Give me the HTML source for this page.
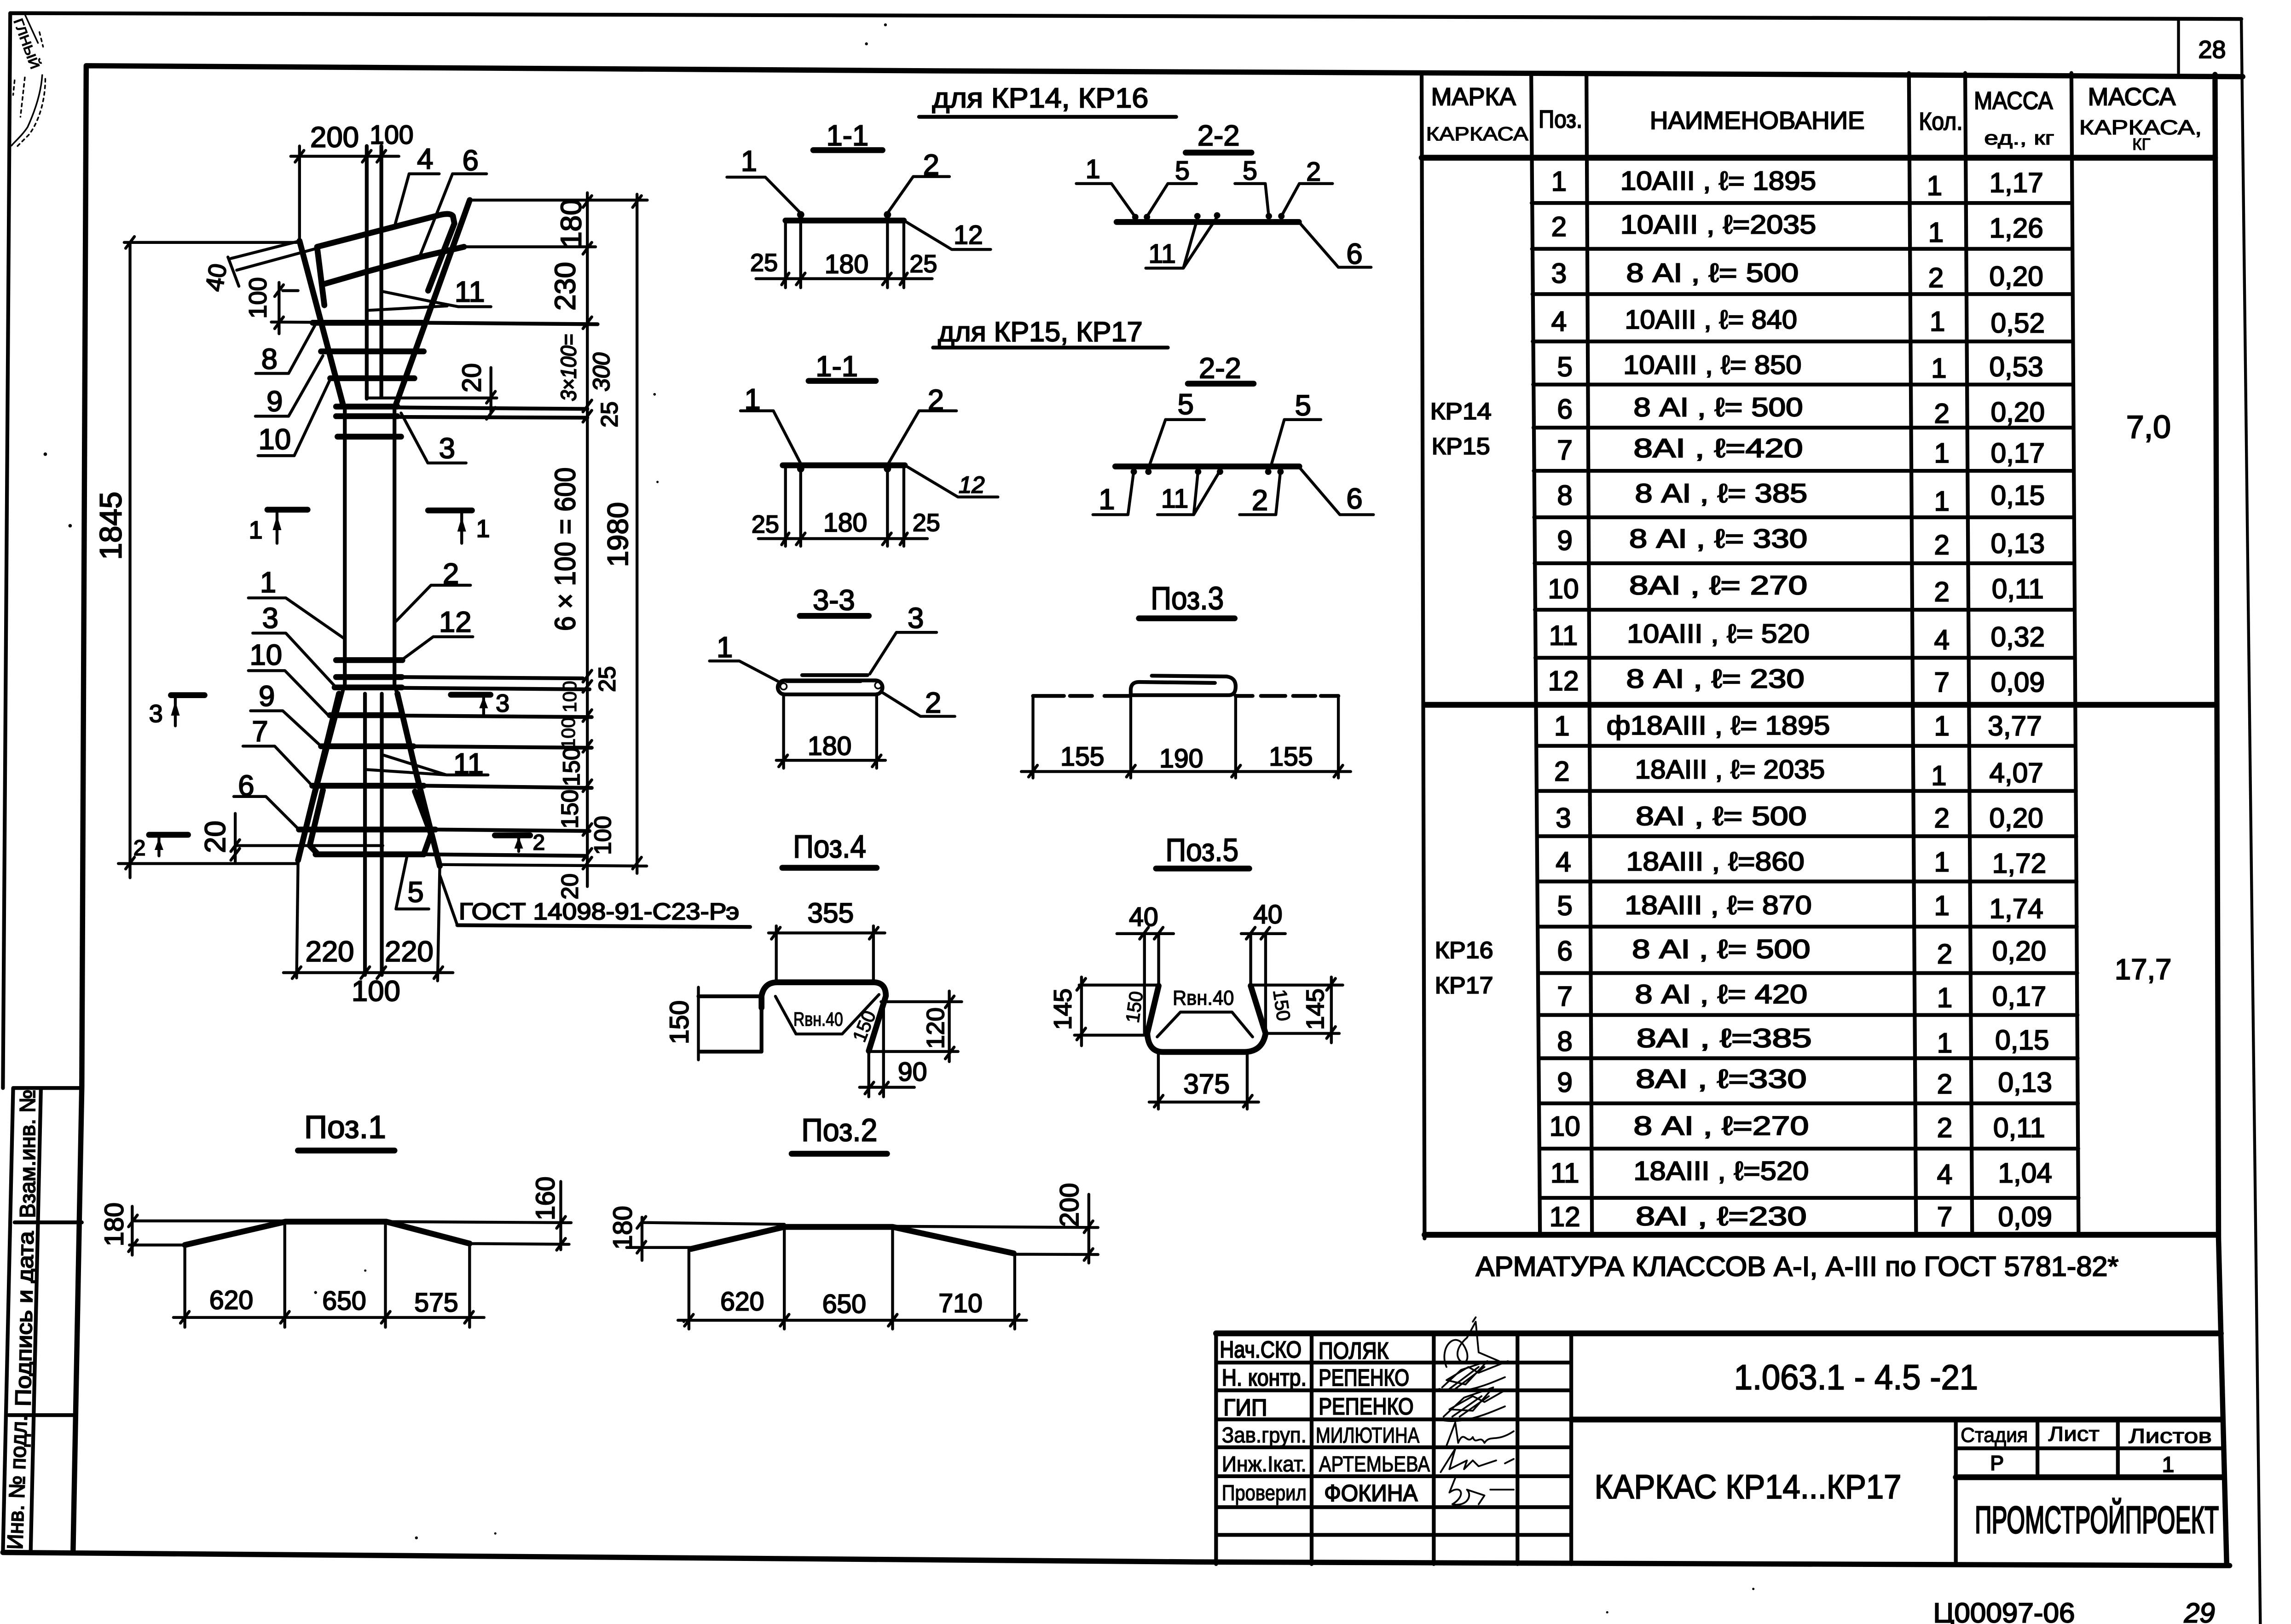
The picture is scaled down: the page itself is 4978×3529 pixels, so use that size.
<!DOCTYPE html>
<html><head><meta charset="utf-8"><title>Каркас КР14...КР17</title>
<style>
html,body{margin:0;padding:0;background:#fff}
svg{display:block;width:4978px;height:3529px}
text{font-family:"Liberation Sans","DejaVu Sans",sans-serif;fill:#000;stroke:#000;stroke-width:.7;text-anchor:middle;dominant-baseline:central;font-size:18px}
.l{stroke:#000;fill:none;stroke-width:2;stroke-linecap:round;stroke-linejoin:round}
.m{stroke-width:2.6}.t{stroke-width:4}.f{stroke-width:3.6}.s{stroke-width:1.1}.h{stroke-width:1.2}
.b{font-size:20px}.c{font-size:16px}.r{font-size:19px}.q{font-size:13px;stroke-width:.45}.z{font-size:22px}
</style></head><body>
<svg xmlns="http://www.w3.org/2000/svg" viewBox="0 0 1568 1112" preserveAspectRatio="none">
<rect width="1568" height="1112" fill="#fff"/>

<!-- sheet frame -->
<path class="l m" d="M7 9L1534 13M7 9L2 745"/>
<path class="l" d="M1534 13L1547 1112M1491 13V50"/>
<path class="l f" d="M59 45L640 48.5L1240 51L1535 52.5M59 45L56 744L50 1063M2 1063L819 1069.5L1526 1072M1516 51L1518.4 848L1520 913L1524 1072"/>
<path class="l m" d="M9 745L2 1063M9 745H56M28 745L21 1063M10 837H56M6 969H52"/>
<text class="c" style="font-size:15px" transform="rotate(-90 19 790)" x="19" y="790" textLength="88" lengthAdjust="spacingAndGlyphs">Взам.инв. №</text>
<text class="c" style="font-size:15px" transform="rotate(-89 17 903)" x="17" y="903" textLength="120" lengthAdjust="spacingAndGlyphs">Подпись и дата</text>
<text class="c" style="font-size:15px" transform="rotate(-88 12 1015)" x="12" y="1015" textLength="92" lengthAdjust="spacingAndGlyphs">Инв. № подл.</text>
<text class="q" style="font-size:9px" transform="rotate(70 18 30)" x="18" y="30" textLength="36" lengthAdjust="spacingAndGlyphs">ГЛНЫЙ</text>
<path class="l s" d="M17.3 10.5L26 29.4M28.9 51.4C28 65 23 78 18.9 87C15 93 10 97 7.9 99.7"/>
<path class="l s" stroke-dasharray="2 2.5" d="M31 54C31 70 26 84 20 92L12 100M27 22L29.5 32M10 55L9 65M17 53L14 80"/>
<text class="b" x="1514" y="34" style="font-size:17px">28</text>

<!-- main column drawing -->
<g>
<path class="l" d="M199 107H273M205 100V165M85 166H205M89 166V601M321.5 137H443M402 132V607M436 133V598M81 591.3H204M301 592L442.6 593M185.7 220.5L409 222M191 193.4V228.5M193.5 199H204M317.6 169H407.6M336 251.7V283M251 272.5H340M158 177L205 165M162 185L217 170M156 176L163.5 196"/>
<path class="l m" d="M251 100V273M261 100V272M236 278V471M270 278V471"/>
<path class="l t" d="M205 165L235 278M321.5 137L270.6 278"/>
<path class="l" d="M321.5 137L317 150"/>
<path class="l t" d="M222 209L217 169L298 148Q308 145 310 148L311 153L293 199"/>
<path class="l t" d="M222 194.4L251 186L287.5 176L317.6 169"/>
<path class="l t" d="M214 221H289M219.7 240.6H290M226 259H283.6M231 299H274.5M230 278.4H272M230 285H272"/>
<path class="l m" d="M272 279L402 280M272 285.5L402 286M289 221L409 222"/>
<!-- leaders upper -->
<path class="l" d="M270.6 153L280 119H300.6M287.5 175L309.7 119H333M261 199.4L295 206.4L313.7 210H336M252 212.5L306 209.5M215.7 222.5L197.5 255.7H175M221 243.6L197.5 285H174.8M226 259.7L201.4 312H176.6M274.5 282.8L292.8 317H319"/>
<!-- ticks -->
<path class="l" d="M202 111l6-8M248 111l6-8M258 111l6-8M399 142l6-8M399 174l6-8M399 225l6-8M399 282l6-8M399 289l6-8M399 467l6-8M399 474l6-8M399 494l6-8M399 515l6-8M399 542l6-8M399 572l6-8M399 589l6-8M399 595l6-8M433 142l6-8M433 595l6-8M86 170l6-8M86 595l6-8M200 670l6-8M247 670l6-8M258 670l6-8M297 670l6-8M188 203l6-8M188 225l6-8M158 583l6-8M158 589l6-8M333 276l6-8M333 287l6-8"/>
<!-- lower part -->
<path class="l m" d="M249.8 475V667.6M261.3 475V667.6M234.7 472.7L204 589M271 471.7L301 593"/>
<path class="l t" d="M232 475L204 589M272 475L285 530M285 530L301 593M221 541L212 579L216.7 584M284 542L295 571L290 585"/>
<path class="l" d="M204 589L203 669.6M301 593L299.5 671.6M194 666H310M162 579H262M161 557V590"/>
<path class="l t" d="M230 452H275.4M230 463.6H275M229 470.7H275M225.7 489.7H275M219.7 511H283M213.7 538H290M204.6 568H298M216 585H290"/>
<path class="l m" d="M275 463.6L399 464.5M275 471L403.5 472M275 490L405 491M283 511L405 512M290 538L405 539.5M298 568L403.5 569M290 585L400.5 586"/>
<path class="l" d="M271 425.4L295 400.7H322M236 437.5L195.6 409.4H170M274 452.6L296.5 436H323.6M230 470.7L195.6 433.5H173M225.7 490.8L195 459.2H170M219.7 510.9L193.5 486.7H171.5M213.7 538L188 510.9H166.3M204.6 568L182 545.4H160M278.4 587L271 622.4H293.5M301 599.3L313 633.5"/>
<path class="l m" d="M313 633.5L513.4 634.7"/>
<path class="l" d="M262 516.9L305.5 530.6H334M251.3 527L305.5 530.6"/>
<!-- section marks -->
<path class="l t" d="M183 349H210.5M293 349.5H323M117 476H140M308.6 475.7H335.7M102 571.6H128.7M338.7 572H362.8"/>
<path class="l" d="M189.6 349V372M316 350V372M120 476V497M331 476V489M108.8 572V586M355 572V583"/>
<path d="M189.6 353l-3 10h6zM316 354l-3 10h6zM120 480l-3 10h6zM331 477l-3 8h6zM108.8 574l-3 8h6zM355 573l-3 8h6z"/>
<text class="b" x="229" y="94">200</text><text class="b" x="268" y="92.5" style="font-size:18px">100</text>
<text class="b" x="291" y="109">4</text><text class="b" x="322" y="110">6</text><text class="b" x="321.5" y="200">11</text>
<text class="b" transform="rotate(-90 76 360)" x="76" y="360" style="font-size:21px">1845</text>
<text class="b" transform="rotate(-90 391 153)" x="391" y="153">180</text>
<text class="b" transform="rotate(-90 387 196)" x="387" y="196">230</text>
<text class="c" transform="rotate(-90 389.4 251.7)" x="389.4" y="251.7" style="font-size:15px;font-style:italic" textLength="46" lengthAdjust="spacingAndGlyphs">3×100=</text>
<text class="c" transform="rotate(-90 411.6 254.7)" x="411.6" y="254.7" style="font-style:italic">300</text>
<text class="c" transform="rotate(-90 417 283.8)" x="417" y="283.8">25</text>
<text class="b" transform="rotate(-90 387 376)" x="387" y="376" textLength="112" lengthAdjust="spacingAndGlyphs">6 × 100 = 600</text>
<text class="b" transform="rotate(-90 423 366)" x="423" y="366">1980</text>
<text class="b" transform="rotate(-90 323 258.7)" x="323" y="258.7" style="font-size:18px">20</text>
<text class="b" transform="rotate(-80 148 190)" x="148" y="190" style="font-size:17px">40</text>
<text class="b" transform="rotate(-90 176.6 204)" x="176.6" y="204" style="font-size:17px">100</text>
<text class="b" x="184.4" y="246">8</text><text class="b" x="188" y="275">9</text><text class="b" x="188" y="300.9">10</text><text class="b" x="306" y="307">3</text>
<text class="b" x="175" y="363" style="font-size:17px">1</text><text class="b" x="330.6" y="362" style="font-size:17px">1</text>
<text class="b" x="308.6" y="393">2</text><text class="b" x="183.5" y="399">1</text><text class="b" x="311.6" y="426">12</text><text class="b" x="185" y="423.4">3</text><text class="b" x="182" y="448.6">10</text><text class="b" x="182.6" y="476.7">9</text><text class="b" x="178" y="501">7</text><text class="b" x="168.5" y="538">6</text><text class="b" x="320.6" y="523">11</text><text class="b" x="284.5" y="611">5</text>
<text class="b" x="106.7" y="488.8" style="font-size:17px">3</text><text class="b" x="344" y="481.7" style="font-size:17px">3</text><text class="b" x="95.5" y="580.8" style="font-size:15px">2</text><text class="b" x="368.8" y="577" style="font-size:15px">2</text>
<text class="b" transform="rotate(-90 147.4 573)" x="147.4" y="573">20</text>
<text class="c" transform="rotate(-90 415.5 465)" x="415.5" y="465">25</text>
<text class="q" transform="rotate(-90 390 477)" x="390" y="477">100</text>
<text class="q" transform="rotate(-90 389 502)" x="389" y="502">100</text>
<text class="c" transform="rotate(-90 391 525)" x="391" y="525">150</text>
<text class="c" transform="rotate(-90 390 554)" x="390" y="554">150</text>
<text class="c" transform="rotate(-90 412.5 572)" x="412.5" y="572">100</text>
<text class="c" transform="rotate(-90 390 607)" x="390" y="607">20</text>
<text class="b" x="225.7" y="651.6">220</text><text class="b" x="280" y="651.6">220</text><text class="b" x="257.3" y="678.7">100</text>
<text class="c" x="410" y="624" textLength="192" lengthAdjust="spacingAndGlyphs">ГОСТ 14098-91-С23-Рэ</text>
</g>

<!-- sections: for КР14, КР16 -->
<g>
<text class="r" x="712" y="67" textLength="148" lengthAdjust="spacingAndGlyphs">для КР14, КР16</text>
<path class="l m" d="M629 80H805M638.6 238H799.3"/>
<text class="b" x="580" y="93">1-1</text><path class="l t" d="M556.6 102.8H604M811.5 104.5H856.5"/>
<path class="l t" d="M537.6 151H618.6"/>
<path class="l" d="M537.6 151V197M548 147V197M607.4 147V197M618.6 151V197M517.4 190.8H638M618.6 151L651.4 170.8H678M548 146L523.8 121.3H497.5M607.4 146L625 120.9H649.8M535 195l5-8M545 195l6-8M604 195l6-8M616 195l5-8"/>
<circle cx="548" cy="147" r="2.5"/><circle cx="607.4" cy="147" r="2.5"/>
<text class="b" x="662.7" y="161" style="font-size:18px">12</text><text class="b" x="512.6" y="110.5">1</text><text class="b" x="637.3" y="113">2</text>
<text class="c" x="522.9" y="180" style="font-size:17px">25</text><text class="b" x="579.4" y="181" style="font-size:18px">180</text><text class="c" x="632" y="180.7" style="font-size:17px">25</text>
<text class="b" x="834" y="93">2-2</text>
<path class="l t" d="M764.2 152H889"/>
<path class="l" d="M889 152L916 183H938.4M777 148.6L760.7 125.7H736.6M784.8 148.6L799.3 125.7H818.9M868.4 148.6L866 125.7H845.2M876.7 148.6L889.3 125.7H912M819.5 149.8L809.9 183.6H784.2M833 148.6L809.9 183.6"/>
<circle cx="777" cy="148.6" r="2.2"/><circle cx="785" cy="148.6" r="2.2"/><circle cx="819.5" cy="148" r="2.2"/><circle cx="833" cy="147.5" r="2.2"/><circle cx="868.4" cy="148" r="2.2"/><circle cx="877" cy="148" r="2.2"/>
<text class="b" x="927" y="174">6</text><text class="c" x="748" y="116" style="font-size:18px">1</text><text class="c" x="809.2" y="117" style="font-size:18px">5</text><text class="c" x="855.5" y="117" style="font-size:18px">5</text><text class="c" x="899" y="117.7" style="font-size:18px">2</text><text class="c" x="795.4" y="174" style="font-size:18px">11</text>

<!-- for КР15, КР17 -->
<text class="r" x="712" y="227" textLength="140" lengthAdjust="spacingAndGlyphs">для КР15, КР17</text>
<text class="b" x="572.7" y="251">1-1</text><path class="l t" d="M553.4 260.8H599.4M813 262.7H858"/>
<path class="l t" d="M535.7 318.6H619.3"/>
<path class="l" d="M537.6 319V374M548 319V374M607.4 319V374M618.6 319V374M519 368.8H634.7M619.3 318.6L655.6 340.3H683M548 317.4L529.3 281.3H506.8M608 317.4L629 281.3H654.6M535 373l5-8M545 373l6-8M604 373l6-8M616 373l5-8"/>
<circle cx="548" cy="321" r="2.5"/><circle cx="607.4" cy="321" r="2.5"/>
<text class="c" x="665" y="332" style="font-style:italic">12</text><text class="b" x="515" y="273.5">1</text><text class="b" x="640.5" y="274">2</text>
<text class="c" x="523.8" y="359" style="font-size:17px">25</text><text class="b" x="578.5" y="358" style="font-size:18px">180</text><text class="c" x="634" y="358" style="font-size:17px">25</text>
<text class="b" x="835" y="252.3">2-2</text>
<path class="l t" d="M763.3 319.4H889.3"/>
<path class="l" d="M889.3 320L917 352.4H940M786.7 318.6L797.7 287.3H824.3M870 318.6L879 287.3H904M776 322.3L772 352.4H748M820 322.3L817 352.4H792.2M835 322.3L817 352.4M876.4 322.3L873.2 352.4H848.4"/>
<circle cx="776" cy="323" r="2.2"/><circle cx="786" cy="323" r="2.2"/><circle cx="820" cy="323" r="2.2"/><circle cx="835" cy="323" r="2.2"/><circle cx="868" cy="323" r="2.2"/><circle cx="876.4" cy="323" r="2.2"/>
<text class="b" x="927" y="341.6">6</text><text class="b" x="811.5" y="277">5</text><text class="b" x="891.8" y="277.7">5</text><text class="b" x="757.5" y="342">1</text><text class="b" x="804" y="341.6" style="font-size:18px">11</text><text class="b" x="862.3" y="342.7">2</text>

<!-- 3-3 -->
<text class="b" x="570.7" y="411">3-3</text><path class="l t" d="M547.4 421.7H594.6M779.5 423.4H845M535.4 594.2H600M791.2 594.7H855M203.9 787.8H270M541.8 790H607.1"/>
<rect class="l m" x="532.3" y="465.9" width="71.7" height="9.6" rx="4.8"/>
<path class="l m" d="M549 462.3H593.7M538.5 466.4H589"/>
<circle class="l s" cx="536.3" cy="470" r="2.2"/><circle class="l s" cx="601" cy="469.3" r="2.2"/>
<path class="l" d="M536.3 475V526M600 475V526M531.3 520.6H606M533 525l6-8M597 525l6-8M532.3 466.4L506 452.6H485.6M595.3 461.5L613.5 433H641M603 473.6L630 490.5H653.5"/>
<text class="b" x="567.8" y="511" style="font-size:18px">180</text><text class="b" x="496" y="443.4">1</text><text class="b" x="626.7" y="423.4">3</text><text class="b" x="638.7" y="481.3">2</text>

<!-- Поз.3 -->
<text class="z" x="812.6" y="409.7" textLength="50" lengthAdjust="spacingAndGlyphs">Поз.3</text>
<path class="l m" d="M773.9 476V472.4Q774 467 779.5 467L831.5 467.6M788.3 462.7L839.4 463.2Q845.7 464 845.7 470Q845.7 476 841 476H773.9"/>
<path class="l m" d="M707 476.5H728.2M732.3 476.5H747.4M755.9 476.5H773.9M845.7 476.5H857.3M863 476.5H879.7M885 476.5H900.2M904 476.5H916"/>
<path class="l" d="M707 476.5V532.7M773.9 476V532.7M845.7 476V532.7M916 476.5V532.7M699 528.3H924.4M704 532l6-8M771 532l6-8M843 532l6-8M913 532l6-8"/>
<text class="b" x="740.8" y="518.2" style="font-size:18px">155</text><text class="b" x="808.5" y="519.4" style="font-size:18px">190</text><text class="b" x="883.5" y="518.2" style="font-size:18px">155</text>

<!-- Поз.4 -->
<text class="z" x="567.8" y="579.7" textLength="50" lengthAdjust="spacingAndGlyphs">Поз.4</text>
<path class="l m" d="M478.7 720.1H521.2V682.2M478 682.2H521.2"/>
<path class="l t" d="M521.2 690V682Q523 672.6 532 672.6H598.4Q606.3 673 606.3 682L594.6 719.6"/>
<path class="l" d="M478 676V725.7M526 638.8H605.6M531.3 634V672.6M597.8 634V672.6M530.7 682.2L544.8 708H576.4L601.6 681M603 685.9H658.2M649.7 678.6V726.9M594.6 720H655.7M594.6 720V751M604.7 685.9V751M588.3 744.5H625.8M528 643l6-8M595 643l6-8M647 690l6-8M647 725l6-8M592 749l6-8M602 749l6-8"/>
<text class="b" x="568.5" y="625" style="font-size:19px">355</text>
<text class="c" transform="rotate(-90 465 700)" x="465" y="700" style="font-size:18px">150</text>
<text class="q" x="560" y="698" textLength="34" lengthAdjust="spacingAndGlyphs">Rвн.40</text>
<text class="q" transform="rotate(-68 591.5 702.7)" x="591.5" y="702.7">150</text>
<text class="c" transform="rotate(-90 640.3 704)" x="640.3" y="704" style="font-size:17px">120</text>
<text class="c" x="624.5" y="734" style="font-size:18px">90</text>

<!-- Поз.5 -->
<text class="z" x="822.7" y="582" textLength="50" lengthAdjust="spacingAndGlyphs">Поз.5</text>
<path class="l t" d="M793 675L785.2 707.6Q786 720.3 796 720.3H852Q864 720 866.2 707.6L856 675"/>
<path class="l" d="M783.3 640V708M793 640V675M856 640V675M866.2 640V708M764.4 639.3H803.2M849.5 639.3H879.7M738.6 674.5H793M735.4 708.8H785M740.2 669V716M857 674.5H919M866.2 707.6H916.6M911.2 669V714M792 710L807.9 693H843.2L857.3 710M792.8 720V759.4M853.6 720V759.4M786.5 754.6H861.4M780 643l6-8M790 643l6-8M853 643l6-8M863 643l6-8M737 678l6-8M737 712l6-8M908 678l6-8M908 711l6-8M790 758l6-8M851 758l6-8"/>
<text class="c" x="782.7" y="628" style="font-size:18px">40</text><text class="c" x="867.7" y="626.3" style="font-size:18px">40</text>
<text class="c" transform="rotate(-90 727.5 691)" x="727.5" y="691" style="font-size:17px">145</text>
<text class="c" transform="rotate(-90 900.2 691)" x="900.2" y="691" style="font-size:17px">145</text>
<text class="q" transform="rotate(-82 776.4 689.5)" x="776.4" y="689.5">150</text>
<text class="q" transform="rotate(82 877.2 688.3)" x="877.2" y="688.3">150</text>
<text class="q" x="823.6" y="683.4" textLength="42" lengthAdjust="spacingAndGlyphs" style="font-size:14px">Rвн.40</text>
<text class="c" x="825.8" y="742" style="font-size:19px">375</text>

<!-- Поз.1 -->
<text class="z" x="236.2" y="771.7" textLength="56" lengthAdjust="spacingAndGlyphs">Поз.1</text>
<path class="l t" d="M126.5 852.5L195.4 836.5H264.3L321.4 851.5"/>
<path class="l" d="M91.4 836H195M264 836.5L390.9 837.2M88.6 852.5H126.5M321.4 851.5L389.5 852M90.5 826V859.4M383.8 809V855.7M126.5 852V908.8M194.9 836V908.8M263.8 836V908.8M321.4 851V908.8M118.7 902.1H331.3M88 840l6-8M88 857l6-8M381 841l6-8M381 856l6-8M123.5 906l6-8M192 906l6-8M261 906l6-8M318 906l6-8"/>
<text class="b" x="158.3" y="890.3" style="font-size:18px">620</text><text class="b" x="235.6" y="890.8" style="font-size:18px">650</text><text class="b" x="298.6" y="892" style="font-size:18px">575</text>
<text class="c" transform="rotate(-90 78.2 838.4)" x="78.2" y="838.4" style="font-size:18px">180</text>
<text class="c" transform="rotate(-90 373.4 820.6)" x="373.4" y="820.6" style="font-size:18px">160</text>

<!-- Поз.2 -->
<text class="z" x="574.5" y="773.8" textLength="52" lengthAdjust="spacingAndGlyphs">Поз.2</text>
<path class="l t" d="M472.8 855.2L536.8 840.1H610.9L693.8 858.2"/>
<path class="l" d="M438.9 837.1L536.8 838.3M612 839.7L751.5 840.5M428.9 854.2H472.8M693.8 858.8L751.5 859M439.4 833.5V863M745.2 817.8V864.8M471.5 855V910M536.8 840V910M610.9 840V910M694.5 858V910M464 904H702.6M436 841l6-8M436 858l6-8M742 844l6-8M742 863l6-8M468.5 908l6-8M534 908l6-8M608 908l6-8M691.5 908l6-8"/>
<text class="b" x="508" y="891.3" style="font-size:18px">620</text><text class="b" x="577.8" y="893" style="font-size:18px">650</text><text class="b" x="657.4" y="892.6" style="font-size:18px">710</text>
<text class="c" transform="rotate(-90 426.3 840.7)" x="426.3" y="840.7" style="font-size:18px">180</text>
<text class="c" transform="rotate(-90 732 825)" x="732" y="825" style="font-size:18px">200</text>
</g>

<!-- table -->
<g>
<path class="l m" d="M973 49.5L975 848M1048 50L1054 846M1085.8 50L1089.6 846M1306.5 50L1311.4 846M1345 50L1349.8 846M1417.7 50L1422.6 846"/>
<path class="l t" d="M973 108H1516M975 482.6H1517M975 845.5H1518"/>
<path class="l m" d="M1048.3 139H1418M1048.5 170.4H1418.2M1048.8 201.4H1418.3M1049 233.8H1418.5M1049.3 263.3H1418.7M1049.5 292.8H1418.9M1049.7 322.4H1419M1050 354.2H1419.2M1050.3 385.7H1419.5M1050.5 417.5H1419.7M1050.8 450.4H1420M1051.5 510.7H1420.5M1051.8 541.6H1420.8M1052 572.6H1421M1052.3 603.6H1421.2M1052.5 634.5H1421.4M1052.8 666.3H1421.7M1053 695H1421.9M1053.2 724.6H1422M1053.4 755.5H1422.2M1053.6 786.5H1422.4M1053.8 820.2H1422.6"/>
<text class="c" x="1008.5" y="66.3" textLength="58" lengthAdjust="spacingAndGlyphs" style="font-size:17px">МАРКА</text>
<text class="q" x="1011" y="91.7" textLength="70" lengthAdjust="spacingAndGlyphs">КАРКАСА</text>
<text class="c" x="1068" y="81.8" textLength="30" lengthAdjust="spacingAndGlyphs" style="font-size:17px">Поз.</text>
<text class="c" x="1202.7" y="82.6" textLength="147" lengthAdjust="spacingAndGlyphs" style="font-size:17px">НАИМЕНОВАНИЕ</text>
<text class="c" x="1328.3" y="83.2" textLength="30" lengthAdjust="spacingAndGlyphs" style="font-size:17px">Кол.</text>
<text class="c" x="1378" y="69" textLength="54" lengthAdjust="spacingAndGlyphs" style="font-size:17px">МАССА</text>
<text class="q" x="1382" y="94.5" textLength="48" lengthAdjust="spacingAndGlyphs">ед., кг</text>
<text class="c" x="1459" y="66.3" textLength="60" lengthAdjust="spacingAndGlyphs" style="font-size:17px">МАССА</text>
<text class="q" x="1465" y="87.4" textLength="84" lengthAdjust="spacingAndGlyphs" style="font-size:14px">КАРКАСА,</text>
<text class="q" x="1465.6" y="99" style="font-size:11px">КГ</text>
<text class="c" x="999.8" y="281.6" textLength="42" lengthAdjust="spacingAndGlyphs">КР14</text>
<text class="c" x="999.8" y="305.5" textLength="40" lengthAdjust="spacingAndGlyphs">КР15</text>
<text class="b" x="1470.5" y="292.3" style="font-size:22px">7,0</text>
<text class="c" x="1002" y="650.5" textLength="40" lengthAdjust="spacingAndGlyphs">КР16</text>
<text class="c" x="1002" y="674.7" textLength="40" lengthAdjust="spacingAndGlyphs">КР17</text>
<text class="b" x="1466.8" y="664" style="font-size:20px">17,7</text>

<!-- positions -->
<g class="pos">
<text class="r" x="1067" y="124">1</text><text class="r" x="1067" y="155">2</text><text class="r" x="1067" y="187">3</text><text class="r" x="1067" y="220">4</text><text class="r" x="1071" y="251">5</text><text class="r" x="1071" y="280">6</text><text class="r" x="1071" y="308">7</text><text class="r" x="1071" y="339">8</text><text class="r" x="1071" y="370">9</text><text class="r" x="1070" y="403">10</text><text class="r" x="1070" y="435">11</text><text class="r" x="1070" y="466">12</text>
<text class="r" x="1069" y="497">1</text><text class="r" x="1069" y="528">2</text><text class="r" x="1070" y="560">3</text><text class="r" x="1070" y="590">4</text><text class="r" x="1071" y="620">5</text><text class="r" x="1071" y="651">6</text><text class="r" x="1071" y="682">7</text><text class="r" x="1071" y="713">8</text><text class="r" x="1071" y="741">9</text><text class="r" x="1071" y="771">10</text><text class="r" x="1071" y="803">11</text><text class="r" x="1071" y="833">12</text>
</g>
<!-- names -->
<g>
<text class="c" x="1176" y="124" textLength="134" lengthAdjust="spacingAndGlyphs" style="font-size:18px">10АIII , ℓ= 1895</text>
<text class="c" x="1176" y="154" textLength="134" lengthAdjust="spacingAndGlyphs" style="font-size:18px">10АIII , ℓ=2035</text>
<text class="c" x="1172" y="187" textLength="118" lengthAdjust="spacingAndGlyphs" style="font-size:18px">8 АI , ℓ= 500</text>
<text class="c" x="1171" y="219" textLength="118" lengthAdjust="spacingAndGlyphs" style="font-size:18px">10АIII , ℓ= 840</text>
<text class="c" x="1172" y="250" textLength="122" lengthAdjust="spacingAndGlyphs" style="font-size:18px">10АIII , ℓ= 850</text>
<text class="c" x="1176" y="279" textLength="116" lengthAdjust="spacingAndGlyphs" style="font-size:18px">8 АI , ℓ= 500</text>
<text class="c" x="1176" y="307" textLength="116" lengthAdjust="spacingAndGlyphs" style="font-size:18px">8АI , ℓ=420</text>
<text class="c" x="1178" y="338" textLength="118" lengthAdjust="spacingAndGlyphs" style="font-size:18px">8 АI , ℓ= 385</text>
<text class="c" x="1176" y="369" textLength="122" lengthAdjust="spacingAndGlyphs" style="font-size:18px">8 АI , ℓ= 330</text>
<text class="c" x="1176" y="401" textLength="122" lengthAdjust="spacingAndGlyphs" style="font-size:18px">8АI , ℓ= 270</text>
<text class="c" x="1176" y="434" textLength="125" lengthAdjust="spacingAndGlyphs" style="font-size:18px">10АIII , ℓ= 520</text>
<text class="c" x="1174" y="465" textLength="122" lengthAdjust="spacingAndGlyphs" style="font-size:18px">8 АI , ℓ= 230</text>
<text class="c" x="1176" y="497" textLength="153" lengthAdjust="spacingAndGlyphs" style="font-size:18px">ф18АIII , ℓ= 1895</text>
<text class="c" x="1184" y="527" textLength="130" lengthAdjust="spacingAndGlyphs" style="font-size:18px">18АIII , ℓ= 2035</text>
<text class="c" x="1178" y="559" textLength="117" lengthAdjust="spacingAndGlyphs" style="font-size:18px">8АI , ℓ= 500</text>
<text class="c" x="1174" y="590" textLength="122" lengthAdjust="spacingAndGlyphs" style="font-size:18px">18АIII , ℓ=860</text>
<text class="c" x="1176" y="620" textLength="128" lengthAdjust="spacingAndGlyphs" style="font-size:18px">18АIII , ℓ= 870</text>
<text class="c" x="1178" y="650" textLength="122" lengthAdjust="spacingAndGlyphs" style="font-size:18px">8 АI , ℓ= 500</text>
<text class="c" x="1178" y="681" textLength="118" lengthAdjust="spacingAndGlyphs" style="font-size:18px">8 АI , ℓ= 420</text>
<text class="c" x="1180" y="711" textLength="120" lengthAdjust="spacingAndGlyphs" style="font-size:18px">8АI , ℓ=385</text>
<text class="c" x="1178" y="739" textLength="117" lengthAdjust="spacingAndGlyphs" style="font-size:18px">8АI , ℓ=330</text>
<text class="c" x="1178" y="771" textLength="120" lengthAdjust="spacingAndGlyphs" style="font-size:18px">8 АI , ℓ=270</text>
<text class="c" x="1178" y="802" textLength="120" lengthAdjust="spacingAndGlyphs" style="font-size:18px">18АIII , ℓ=520</text>
<text class="c" x="1178" y="833" textLength="117" lengthAdjust="spacingAndGlyphs" style="font-size:18px">8АI , ℓ=230</text>
</g>
<!-- qty -->
<g>
<text class="r" x="1324" y="127">1</text><text class="r" x="1325" y="159">1</text><text class="r" x="1325" y="190">2</text><text class="r" x="1326" y="220">1</text><text class="r" x="1327" y="252">1</text><text class="r" x="1329" y="283">2</text><text class="r" x="1329" y="310">1</text><text class="r" x="1329" y="343">1</text><text class="r" x="1329" y="373">2</text><text class="r" x="1329" y="405">2</text><text class="r" x="1329" y="438">4</text><text class="r" x="1329" y="467">7</text>
<text class="r" x="1329" y="497">1</text><text class="r" x="1327" y="531">1</text><text class="r" x="1329" y="560">2</text><text class="r" x="1329" y="590">1</text><text class="r" x="1329" y="620">1</text><text class="r" x="1331" y="653">2</text><text class="r" x="1331" y="683">1</text><text class="r" x="1331" y="714">1</text><text class="r" x="1331" y="742">2</text><text class="r" x="1331" y="772">2</text><text class="r" x="1331" y="804">4</text><text class="r" x="1331" y="833">7</text>
</g>
<!-- mass -->
<g>
<text class="r" x="1380" y="125">1,17</text><text class="r" x="1380" y="156">1,26</text><text class="r" x="1380" y="189">0,20</text><text class="r" x="1381" y="221">0,52</text><text class="r" x="1380" y="251">0,53</text><text class="r" x="1381" y="282">0,20</text><text class="r" x="1381" y="310">0,17</text><text class="r" x="1381" y="339">0,15</text><text class="r" x="1381" y="372">0,13</text><text class="r" x="1381" y="403">0,11</text><text class="r" x="1381" y="436">0,32</text><text class="r" x="1381" y="467">0,09</text>
<text class="r" x="1379" y="497">3,77</text><text class="r" x="1380" y="529">4,07</text><text class="r" x="1380" y="560">0,20</text><text class="r" x="1382" y="591">1,72</text><text class="r" x="1380" y="622">1,74</text><text class="r" x="1382" y="651">0,20</text><text class="r" x="1382" y="682">0,17</text><text class="r" x="1384" y="712">0,15</text><text class="r" x="1386" y="741">0,13</text><text class="r" x="1382" y="772">0,11</text><text class="r" x="1386" y="803">1,04</text><text class="r" x="1386" y="833">0,09</text>
</g>
<text class="r" x="1230" y="867" textLength="440" lengthAdjust="spacingAndGlyphs">АРМАТУРА  КЛАССОВ  А-I, А-III по ГОСТ 5781-82*</text>
</g>

<!-- title block -->
<g>
<path class="l t" d="M832.3 913H1520M1075.4 972H1521M1338.6 1011.5H1522"/>
<path class="l m" d="M832.3 913V1071M1075.4 913V1071M1338.6 972V1071M832.3 933H1075.4M832.3 952H1075.4M832.3 971.9H1075.4M832.3 991H1075.4M832.3 1010.8H1075.4M832.3 1032H1075.4M832.3 1051H1075.4M897.7 913V1071M981.3 913V1071M1038.6 913V1071M1394.5 972V1011.5M1449.5 972V1011.5M1338.6 991.7H1521"/>
<text class="c" x="862.8" y="924" textLength="56" lengthAdjust="spacingAndGlyphs">Нач.СКО</text>
<text class="c" x="865.2" y="943.2" textLength="58" lengthAdjust="spacingAndGlyphs">Н. контр.</text>
<text class="c" x="852.3" y="963.7" textLength="30" lengthAdjust="spacingAndGlyphs">ГИП</text>
<text class="q" x="865.2" y="982.8" textLength="58" lengthAdjust="spacingAndGlyphs" style="font-size:15px">Зав.груп.</text>
<text class="q" x="865.2" y="1002.6" textLength="58" lengthAdjust="spacingAndGlyphs" style="font-size:15px">Инж.Iкат.</text>
<text class="q" x="865.2" y="1022.4" textLength="58" lengthAdjust="spacingAndGlyphs" style="font-size:15px">Проверил</text>
<text class="c" x="926.4" y="924.8" textLength="48" lengthAdjust="spacingAndGlyphs">ПОЛЯК</text>
<text class="c" x="933.5" y="943.2" textLength="62" lengthAdjust="spacingAndGlyphs">РЕПЕНКО</text>
<text class="c" x="935" y="963" textLength="65" lengthAdjust="spacingAndGlyphs">РЕПЕНКО</text>
<text class="q" x="936" y="983" textLength="71" lengthAdjust="spacingAndGlyphs" style="font-size:15px">МИЛЮТИНА</text>
<text class="q" x="940.7" y="1002.6" textLength="76" lengthAdjust="spacingAndGlyphs" style="font-size:15px">АРТЕМЬЕВА</text>
<text class="c" x="938.3" y="1022.4" textLength="64" lengthAdjust="spacingAndGlyphs">ФОКИНА</text>
<!-- signatures -->
<path class="l h" d="M990 936C984 922 998 908 1004 926C1007 940 988 930 1004 916L1010 905L1012 926L1026 932M1008 905L1010 902"/>
<path class="l h" d="M987 950L1000 938L1018 932L1003 948L990 945L1005 936L1012 940L1032 932M985 951C1000 956 1018 948 1030 943M992 951L1012 936M996 951L1016 936"/>
<path class="l h" d="M988 970L1002 957L1022 950L1008 966L992 965L1008 956L1016 960L1030 952M985 972C1000 976 1018 968 1030 963M994 970L1014 956M999 970L1019 956"/>
<path class="l h" d="M990 990L996 974L998 988C1002 978 1004 990 1008 984C1010 990 1013 982 1016 988C1020 982 1024 988 1036 980"/>
<path class="l h" d="M986 1008L996 992L992 1006L1004 1000L1002 1006L1008 1000L1012 1004L1024 1000M1030 1002L1036 999"/>
<path class="l h" d="M996 1012L992 1022C1000 1016 1004 1024 994 1030C1004 1032 1008 1024 1004 1020L1016 1024L1012 1030M1020 1020H1036"/>
<text class="z" x="1270.3" y="943.2" textLength="167" lengthAdjust="spacingAndGlyphs" style="font-size:24px">1.063.1 - 4.5 -21</text>
<text class="z" x="1196.3" y="1018.3" textLength="210" lengthAdjust="spacingAndGlyphs" style="font-size:23px">КАРКАС КР14...КР17</text>
<text class="q" x="1364.9" y="982.8" textLength="46" lengthAdjust="spacingAndGlyphs" style="font-size:14px">Стадия</text>
<text class="q" x="1419.4" y="982" textLength="35" lengthAdjust="spacingAndGlyphs" style="font-size:14px">Лист</text>
<text class="q" x="1485.3" y="983.5" textLength="57" lengthAdjust="spacingAndGlyphs" style="font-size:14px">Листов</text>
<text class="c" x="1366.8" y="1002" style="font-size:14px">Р</text>
<text class="c" x="1483.9" y="1003" style="font-size:15px">1</text>
<text class="z" x="1435.1" y="1040.8" textLength="167" lengthAdjust="spacingAndGlyphs" style="font-size:26px;stroke-width:1">ПРОМСТРОЙПРОЕКТ</text>
<text class="r" x="1371.6" y="1104.3" textLength="97" lengthAdjust="spacingAndGlyphs">Ц00097-06</text>
<text class="r" x="1505.4" y="1104.3" style="font-style:italic">29</text>
</g>

<!-- specks -->
<g>
<circle cx="593" cy="30" r="1"/><circle cx="606" cy="17" r="1"/><circle cx="31" cy="311" r="1.2"/><circle cx="48" cy="360" r="1.2"/><circle cx="448" cy="270" r=".9"/><circle cx="216" cy="885" r="1"/><circle cx="250" cy="870" r=".8"/><circle cx="468" cy="905" r=".9"/><circle cx="285" cy="1053" r="1"/><circle cx="1200" cy="1088" r=".8"/><circle cx="1100" cy="1104" r=".8"/><circle cx="339" cy="1050" r=".8"/><circle cx="450" cy="330" r=".8"/>
</g>
</svg>
</body></html>
